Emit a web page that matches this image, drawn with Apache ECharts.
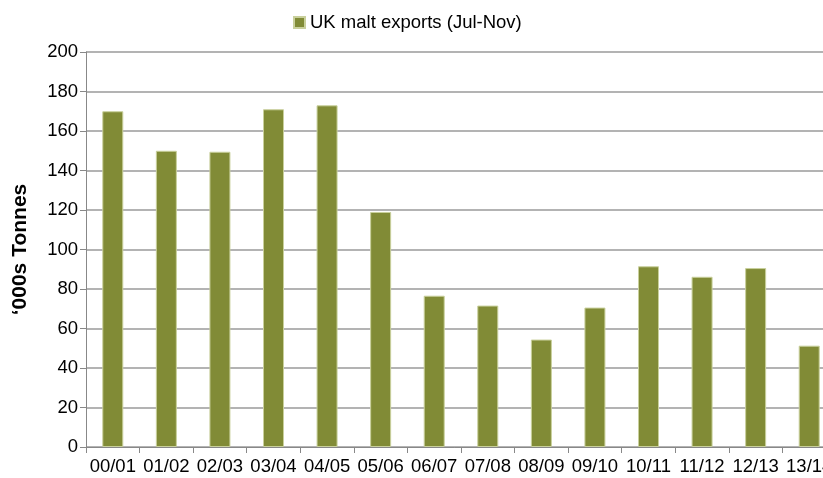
<!DOCTYPE html>
<html>
<head>
<meta charset="utf-8">
<script src="https://cdn.jsdelivr.net/npm/echarts@6/dist/echarts.min.js"></script>
<style>
html,body{margin:0;padding:0;background:#fff;}
#c{width:823px;height:478px;}
</style>
</head>
<body>
<div id="c"></div>
<script>
const categories = ['00/01','01/02','02/03','03/04','04/05','05/06','06/07','07/08','08/09','09/10','10/11','11/12','12/13','13/14'];
const exports = [170, 150, 149.5, 171, 173, 119, 76.6, 71.6, 54.4, 70.6, 91.5, 86.2, 90.6, 51.3];
const seriesName = 'UK malt exports (Jul-Nov)';
const yTitle = '\u2018000s Tonnes';

const chart = echarts.init(document.getElementById('c'), null, {renderer:'canvas'});
const font = 'Liberation Sans, Arial, sans-serif';
chart.setOption({
  animation:false,
  backgroundColor:'#fff',
  legend:{
    data:[seriesName],
    top:8, left:288,
    itemWidth:11, itemHeight:11, itemGap:4,
    icon:'rect',
    textStyle:{fontFamily:font, fontSize:18.5, color:'#000'}
  },
  grid:{left:86, top:52, width:750, height:395, containLabel:false, outerBoundsMode:'none'},
  xAxis:{
    type:'category',
    data:categories,
    axisLine:{lineStyle:{color:'#888', width:1}},
    axisTick:{show:true, alignWithLabel:false, length:6, lineStyle:{color:'#888'}},
    axisLabel:{fontFamily:font, fontSize:18.5, color:'#000', margin:10, interval:0}
  },
  yAxis:{
    type:'value', min:0, max:200, interval:20,
    name:yTitle, nameLocation:'middle', nameGap:55, nameRotate:90,
    nameTextStyle:{fontFamily:font, fontSize:21, fontWeight:'bold', color:'#000'},
    axisLine:{show:true, lineStyle:{color:'#888'}},
    axisTick:{show:true, length:6, lineStyle:{color:'#888'}},
    axisLabel:{fontFamily:font, fontSize:18.5, color:'#000', margin:8},
    splitLine:{lineStyle:{color:'#9a9a9a', width:1.5}}
  },
  series:[{
    name:seriesName,
    type:'bar',
    data:exports,
    barWidth:21,
    itemStyle:{color:'#818b36', borderColor:'#c9d09c', borderWidth:1}
  }]
});
</script>
</body>
</html>
